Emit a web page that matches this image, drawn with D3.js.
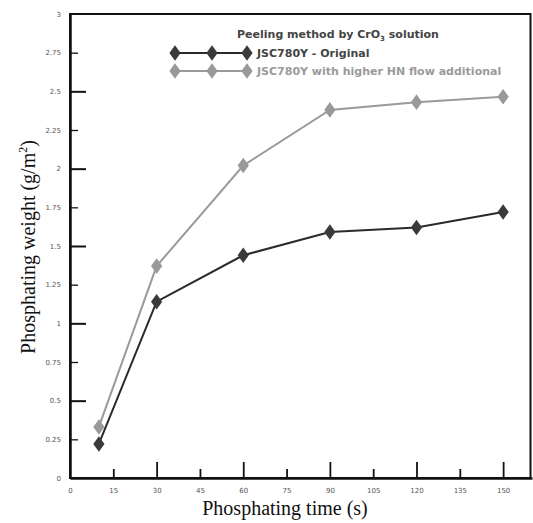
<!DOCTYPE html>
<html><head><meta charset="utf-8">
<script src="https://cdn.jsdelivr.net/npm/d3@7"></script>
<style>body{margin:0;background:#fff}</style>
</head><body>
<script>
const times = [10, 30, 60, 90, 120, 150];
const original = [0.22, 1.14, 1.44, 1.59, 1.62, 1.72];
const higherHN = [0.33, 1.37, 2.02, 2.38, 2.43, 2.465];
const xTicks = [0, 15, 30, 45, 60, 75, 90, 105, 120, 135, 150];
const yTicks = [0, 0.25, 0.5, 0.75, 1, 1.25, 1.5, 1.75, 2, 2.25, 2.5, 2.75, 3];
const seriesNames = ["JSC780Y - Original", "JSC780Y with higher HN flow additional"];

const W = 533, H = 523;
const m = {l: 70, r: 1, t: 14, b: 45};
const svg = d3.select("body").append("svg").attr("width", W).attr("height", H);
const x = d3.scaleLinear().domain([0, 160]).range([m.l, W - m.r]);
const y = d3.scaleLinear().domain([0, 3]).range([H - m.b, m.t]);

// frame
svg.append("rect").attr("x", m.l).attr("y", y(3)).attr("width", x(160) - m.l - 1.5).attr("height", y(0) - y(3))
  .attr("fill", "none").attr("stroke", "#111").attr("stroke-width", 2);

const isMajorY = v => Math.abs(v * 2 - Math.round(v * 2)) < 1e-6;
const yAxis = svg.append("g").attr("transform", `translate(${m.l},0)`)
  .call(d3.axisLeft(y).tickValues(yTicks).tickSizeInner(-16).tickSizeOuter(0).tickPadding(25).tickFormat(d => d3.format("")(d)));
yAxis.select(".domain").attr("stroke", "#111").attr("stroke-width", 2.5);
yAxis.selectAll(".tick line").attr("stroke", "#111")
  .attr("x2", d => (d === 0 || d === 3) ? 0 : (isMajorY(d) ? 16 : 8))
  .attr("stroke-width", d => isMajorY(d) ? 2 : 1.3);
yAxis.selectAll(".tick text").attr("x", -9).attr("font-family", "DejaVu Sans, sans-serif").attr("font-size", 7).attr("fill", "#555");

const isMajorX = v => v % 30 === 0;
const xAxis = svg.append("g").attr("transform", `translate(0,${y(0)})`)
  .call(d3.axisBottom(x).tickValues(xTicks).tickSizeInner(-16).tickSizeOuter(0).tickPadding(26));
xAxis.select(".domain").attr("stroke", "#111").attr("stroke-width", 2.5);
xAxis.selectAll(".tick line").attr("stroke", "#111")
  .attr("y2", d => d === 0 ? 0 : (isMajorX(d) ? -16 : -9)).attr("stroke-width", 1.8);
xAxis.selectAll(".tick text").attr("y", 10).attr("font-family", "DejaVu Sans, sans-serif").attr("font-size", 7).attr("fill", "#555");

svg.append("text").attr("x", 285).attr("y", 515).attr("text-anchor", "middle")
  .attr("font-family", "Liberation Serif, Times New Roman, serif").attr("font-size", 20).attr("fill", "#111")
  .text("Phosphating time (s)");
const yt = svg.append("text").attr("transform", "translate(35,247) rotate(-90)").attr("text-anchor", "middle")
  .attr("font-family", "Liberation Serif, Times New Roman, serif").attr("font-size", 20).attr("fill", "#111");
yt.append("tspan").text("Phosphating weight (g/m");
yt.append("tspan").attr("font-size", 12).attr("dy", -8).text("2");
yt.append("tspan").attr("dy", 8).text(")");

const data = [
  {name: seriesNames[0], vals: original, line: "#2a2a2a", mark: "#3a3a3a"},
  {name: seriesNames[1], vals: higherHN, line: "#9a9a9a", mark: "#999"}
];
const diamond = d3.symbol().type(d3.symbolDiamond).size(70);
const lineGen = d3.line().x((d, i) => x(times[i])).y(d => y(d));
[data[1], data[0]].forEach(s => {
  svg.append("path").attr("d", lineGen(s.vals)).attr("fill", "none").attr("stroke", s.line).attr("stroke-width", 2);
  svg.selectAll(null).data(s.vals).enter().append("path")
    .attr("d", diamond).attr("transform", (d, i) => `translate(${x(times[i])},${y(d)}) scale(1.25,1)`)
    .attr("fill", s.mark);
});

const lg = svg.append("g");
const lt = lg.append("text").attr("x", 338).attr("y", 38).attr("text-anchor", "middle")
  .attr("font-family", "DejaVu Sans, sans-serif").attr("font-weight", "bold").attr("font-size", 11).attr("fill", "#444");
lt.append("tspan").text("Peeling method by CrO");
lt.append("tspan").attr("font-size", 7).attr("dy", 3).text("3");
lt.append("tspan").attr("dy", -3).text(" solution");
data.forEach((s, i) => {
  const ly = 53 + i * 18;
  lg.append("line").attr("x1", 175).attr("x2", 247).attr("y1", ly).attr("y2", ly).attr("stroke", s.line).attr("stroke-width", 2);
  [175, 212, 247].forEach(px => {
    lg.append("path").attr("d", diamond).attr("transform", `translate(${px},${ly}) scale(1.25,1)`).attr("fill", s.mark);
  });
  lg.append("text").attr("x", 257).attr("y", ly + 4)
    .attr("font-family", "DejaVu Sans, sans-serif").attr("font-weight", "bold").attr("font-size", 11)
    .attr("fill", i === 0 ? "#444" : "#9a9a9a").text(s.name);
});
</script>
</body></html>
